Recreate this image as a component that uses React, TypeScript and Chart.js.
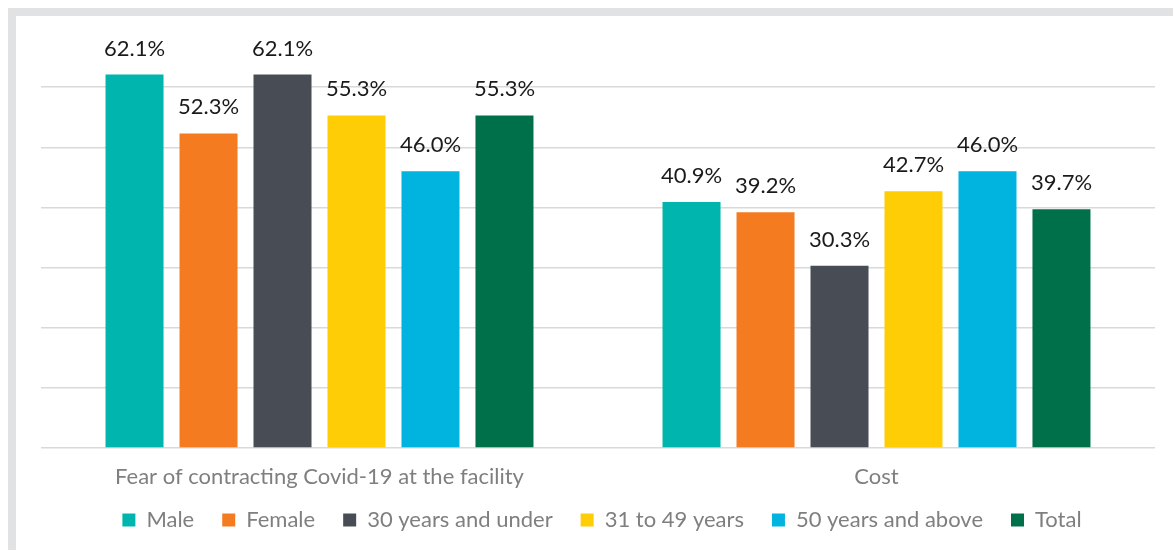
import React, { useEffect, useRef } from "react";
import { Chart, registerables } from "chart.js";

Chart.register(...registerables);

const categories = ["Fear of contracting Covid-19 at the facility", "Cost"];
const seriesNames = ["Male", "Female", "30 years and under", "31 to 49 years", "50 years and above", "Total"];
const male = [62.1, 40.9];
const female = [52.3, 39.2];
const under30 = [62.1, 30.3];
const age31to49 = [55.3, 42.7];
const over50 = [46.0, 46.0];
const total = [55.3, 39.7];
const seriesColors = ["#00B5AD", "#F47B20", "#484C55", "#FECD06", "#00B4DF", "#00704A"];

const FONT = "Lato, 'Open Sans', sans-serif";
const LEGEND_PAD = 28;
const LEGEND_FONT = 22;
const LEGEND_CENTER_Y = 520;
const LEGEND_HEIGHT = 53;
const LEGEND_SHIFT_X = 4;

const barLabels = {
  id: "barLabels",
  afterDatasetsDraw(chart: any) {
    const ctx = chart.ctx;
    ctx.save();
    ctx.font = `22px ${FONT}`;
    ctx.fillStyle = "#1a1a1a";
    ctx.textAlign = "center";
    ctx.textBaseline = "alphabetic";
    chart.data.datasets.forEach((ds: any, i: number) => {
      const meta = chart.getDatasetMeta(i);
      meta.data.forEach((bar: any, j: number) => {
        const v = ds.data[j] as number;
        ctx.fillText(v.toFixed(1) + "%", bar.x, bar.y - 19);
      });
    });
    ctx.restore();
  },
};

const legendFix = {
  id: "legendFix",
  beforeLayout(chart: any) {
    const lg = chart.legend;
    if (lg && !lg.__patched) {
      const orig = lg.fit.bind(lg);
      lg.fit = function () {
        orig();
        this.height = LEGEND_HEIGHT;
      };
      lg.__patched = true;
    }
  },
  afterLayout(chart: any) {
    const lg = chart.legend;
    if (!lg) return;
    const top = LEGEND_CENTER_Y - LEGEND_FONT / 2 - LEGEND_PAD;
    lg.top = top;
    lg.bottom = top + lg.height;
    lg.left += LEGEND_SHIFT_X;
    lg.right += LEGEND_SHIFT_X;
  },
};

export default function App() {
  const ref = useRef<HTMLCanvasElement | null>(null);
  useEffect(() => {
    if (!ref.current) return;
    const values = [male, female, under30, age31to49, over50, total];
    const chart = new Chart(ref.current, {
      type: "bar",
      data: {
        labels: categories,
        datasets: seriesNames.map((name, i) => ({
          label: name,
          data: values[i],
          backgroundColor: seriesColors[i],
          borderWidth: 0,
          barPercentage: 0.784,
          categoryPercentage: 0.797,
        })),
      },
      options: {
        responsive: false,
        animation: false,
        layout: { padding: { left: 41, right: 18, top: 27, bottom: 9 } },
        plugins: {
          legend: {
            position: "bottom",
            labels: {
              boxWidth: 13,
              boxHeight: 13,
              padding: LEGEND_PAD,
              color: "#7F7F7F",
              font: { size: LEGEND_FONT, family: FONT },
            },
          },
          tooltip: { enabled: false },
        },
        scales: {
          x: {
            grid: { display: false, drawTicks: false },
            border: { display: false },
            ticks: { color: "#7F7F7F", font: { size: 22, family: FONT }, padding: 16 },
            afterFit: (s: any) => {
              s.height = 40;
            },
          },
          y: {
            min: 0,
            max: 70,
            ticks: { display: false, stepSize: 10 },
            border: { display: false },
            grid: {
              drawTicks: false,
              color: (c: any) => (c.tick && c.tick.value === 70 ? "rgba(0,0,0,0)" : "#D9D9D9"),
              lineWidth: 1.5,
            },
          },
        },
      },
      plugins: [barLabels, legendFix],
    });
    return () => chart.destroy();
  }, []);

  return (
    <div style={{ position: "fixed", left: 0, top: 0, width: 1173, height: 550, overflow: "hidden", background: "#fff" }}>
      <div
        style={{
          position: "absolute",
          left: 8,
          top: 8,
          width: 1220,
          height: 600,
          border: "8px solid #E1E2E4",
          boxSizing: "border-box",
        }}
      />
      <canvas ref={ref} width={1173} height={550} style={{ position: "absolute", left: 0, top: 0 }} />
    </div>
  );
}
